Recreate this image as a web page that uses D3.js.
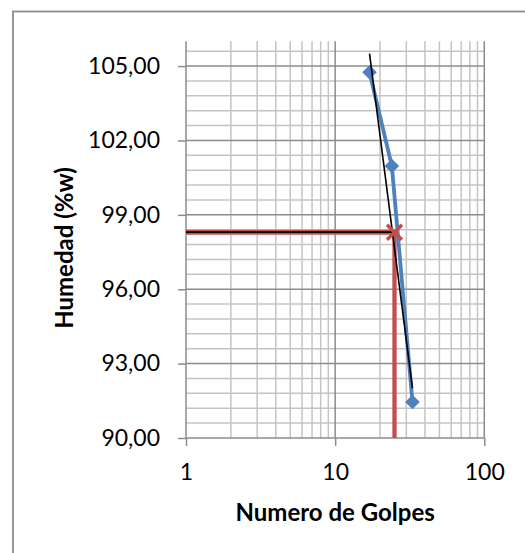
<!DOCTYPE html>
<html><head><meta charset="utf-8">
<script src="https://cdn.jsdelivr.net/npm/d3@7"></script>
<style>
html,body{margin:0;padding:0;background:#fff;}
svg{display:block;font-family:Lato,"Open Sans",sans-serif;}
</style></head>
<body>
<svg id="chart" width="525" height="553"></svg>
<script>
// Data
const golpes = [17, 24, 33];
const humedad = [104.75, 100.97, 91.45];
const trendX = [17, 33];
const trendY = [105.5, 92.0];
const limiteX = 25;
const limiteY = 98.3;
const xTicks = [1, 10, 100];
const yTicks = [90, 93, 96, 99, 102, 105];
const xTitle = "Numero de Golpes";
const yTitle = "Humedad (%w)";

(function () {
const svg = d3.select("#chart");
const pLeft = 186, pRight = 484.3, pTop = 41.3, pBottom = 438;

const x = d3.scaleLog().domain([1, 100]).range([pLeft, pRight]);
const y = d3.scaleLinear().domain([90, 106]).range([pBottom, pTop]);

// frame
svg.append("rect").attr("x", 13).attr("y", 11.5).attr("width", 530).attr("height", 560)
  .attr("fill", "#fff").attr("stroke", "#8c8c8c").attr("stroke-width", 1.8);

const g = svg.append("g");
const yMinor = d3.range(1, 27).map(i => 90 + i * 0.6).filter((v, i) => (i + 1) % 5 !== 0);
g.selectAll("line.yminor").data(yMinor).join("line")
  .attr("x1", pLeft).attr("x2", pRight)
  .attr("y1", d => y(d)).attr("y2", d => y(d))
  .attr("stroke", "#c4c4c4").attr("stroke-width", 1.5);
const xMinor = [];
[1, 10].forEach(dec => { for (let k = 2; k <= 9; k++) xMinor.push(dec * k); });
g.selectAll("line.xminor").data(xMinor).join("line")
  .attr("x1", d => x(d)).attr("x2", d => x(d))
  .attr("y1", pTop).attr("y2", pBottom)
  .attr("stroke", "#c4c4c4").attr("stroke-width", 1.5);
g.selectAll("line.ymajor").data(yTicks.filter(v => v !== 90)).join("line")
  .attr("x1", pLeft).attr("x2", pRight)
  .attr("y1", d => y(d)).attr("y2", d => y(d))
  .attr("stroke", "#8c8c8c").attr("stroke-width", 1.5);
g.selectAll("line.xmajor").data(xTicks.filter(v => v !== 1)).join("line")
  .attr("x1", d => x(d)).attr("x2", d => x(d))
  .attr("y1", pTop).attr("y2", pBottom)
  .attr("stroke", "#8c8c8c").attr("stroke-width", 1.5);

// axes
const yAxis = d3.axisLeft(y).tickValues(yTicks).tickSize(8).tickPadding(18)
  .tickFormat(d => d3.format(".2f")(d).replace(".", ","));
const ya = svg.append("g").attr("transform", `translate(${pLeft},0)`).call(yAxis);
const xAxis = d3.axisBottom(x).tickValues(xTicks).tickSize(8).tickPadding(18)
  .tickFormat(d3.format("d"));
const xa = svg.append("g").attr("transform", `translate(0,${pBottom})`).call(xAxis);
[ya, xa].forEach(a => {
  a.select(".domain").attr("stroke", "#8c8c8c").attr("stroke-width", 1.5);
  a.selectAll(".tick line").attr("stroke", "#8c8c8c").attr("stroke-width", 1.5);
  a.selectAll("text").attr("font-family", "Lato, sans-serif").attr("font-size", 23).attr("fill", "#000");
});
ya.select(".domain").attr("d", `M0,${pTop}V${pBottom}`);
xa.select(".domain").attr("d", `M${pLeft},0H${pRight}`);

// red reference lines
const line = d3.line().x(d => x(d[0])).y(d => y(d[1]));
svg.append("path").datum([[1, limiteY], [limiteX, limiteY]]).attr("d", line)
  .attr("fill", "none").attr("stroke", "#c0504d").attr("stroke-width", 5);
svg.append("path").datum([[1, limiteY], [limiteX, limiteY]]).attr("d", line)
  .attr("fill", "none").attr("stroke", "#000").attr("stroke-width", 1.8);
svg.append("path").datum([[limiteX, limiteY], [limiteX, 90]]).attr("d", line)
  .attr("fill", "none").attr("stroke", "#c0504d").attr("stroke-width", 4.3);

// data series
const pts = golpes.map((v, i) => [v, humedad[i]]);
svg.append("path").datum(pts).attr("d", line)
  .attr("fill", "none").attr("stroke", "#4f81bd").attr("stroke-width", 3.8).attr("stroke-linejoin", "round");
svg.selectAll("path.pt").data(pts).join("path")
  .attr("d", "M0,-7.3L7.3,0L0,7.3L-7.3,0Z")
  .attr("transform", d => `translate(${x(d[0])},${y(d[1])})`)
  .attr("fill", "#4f81bd");

// trend line
svg.append("path").datum(trendX.map((v, i) => [v, trendY[i]])).attr("d", line)
  .attr("fill", "none").attr("stroke", "#000").attr("stroke-width", 1.6);

// cross marker
const cx = x(limiteX), cy = y(limiteY), s = 7.5;
svg.append("path").attr("d", `M${cx-s},${cy-s}L${cx+s},${cy+s}M${cx-s},${cy+s}L${cx+s},${cy-s}`)
  .attr("stroke", "#c0504d").attr("stroke-width", 3.5).attr("fill", "none");

// titles
svg.append("text").attr("x", (pLeft + pRight) / 2).attr("y", 521)
  .attr("text-anchor", "middle").attr("font-weight", "bold").attr("font-size", 24)
  .attr("font-family", "Lato, sans-serif").text(xTitle);
svg.append("text").attr("transform", `translate(73,248) rotate(-90)`)
  .attr("text-anchor", "middle").attr("font-weight", "bold").attr("font-size", 24)
  .attr("font-family", "Lato, sans-serif").text(yTitle);
})();
</script>
</body></html>
